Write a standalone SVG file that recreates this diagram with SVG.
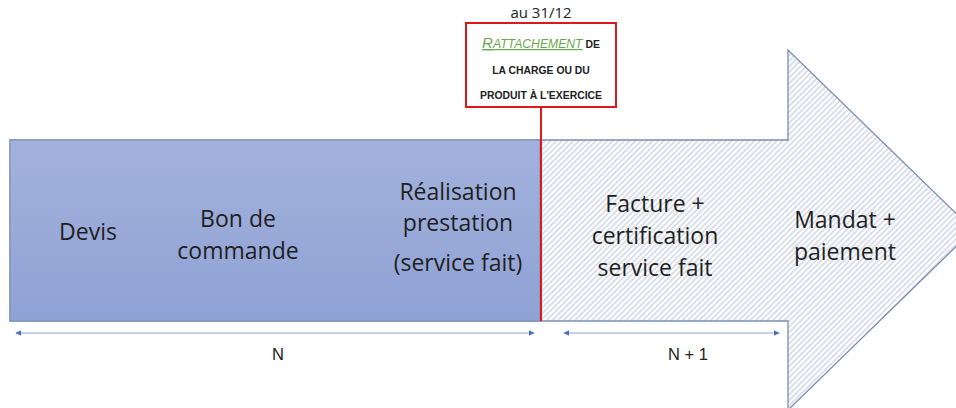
<svg xmlns="http://www.w3.org/2000/svg" width="956" height="408" viewBox="0 0 956 408">
<style>
.main{font-family:"Open Sans","Liberation Sans",sans-serif;font-size:23px;fill:#1f1f1f;text-anchor:middle}
.small{font-family:"Liberation Sans",Arial,sans-serif;font-size:10.4px;font-weight:bold;fill:#222;text-anchor:middle}
.lbl{font-family:"Liberation Sans",Arial,sans-serif;font-size:16.5px;fill:#222;text-anchor:middle}
.dim{stroke:#b4c0e0;stroke-width:1.5;fill:none}
</style>
<defs>
<pattern id="hatch" patternUnits="userSpaceOnUse" width="4" height="4" patternTransform="rotate(45)">
<rect width="4" height="4" fill="#ffffff"/>
<line x1="1" y1="0" x2="1" y2="4" stroke="#c6cedf" stroke-width="1.3"/>
</pattern>
<linearGradient id="blue" x1="0" y1="0" x2="0" y2="1">
<stop offset="0" stop-color="#a3b2dc"/>
<stop offset="1" stop-color="#8fa2d5"/>
</linearGradient>
<marker id="ah" viewBox="0 0 10 10" refX="9" refY="5" markerWidth="6" markerHeight="6" orient="auto-start-reverse" markerUnits="userSpaceOnUse">
<path d="M0,0 L10,5 L0,10 z" fill="#4472c4"/>
</marker>
</defs>
<g id="arrow">
<polygon points="10,140 788,140 788,50 973,230 788,410 788,321 10,321" fill="url(#hatch)" stroke="#7b8db2" stroke-width="1.3"/>
<rect x="10" y="140" width="530" height="181" fill="url(#blue)" stroke="#7b8db2" stroke-width="1"/>
</g>
<g id="connectors">
<line x1="541" y1="107" x2="541" y2="321" stroke="#e0161b" stroke-width="2"/>
<line class="dim" x1="16" y1="333" x2="534" y2="333" marker-start="url(#ah)" marker-end="url(#ah)"/>
<line class="dim" x1="564" y1="333" x2="779" y2="333" marker-start="url(#ah)" marker-end="url(#ah)"/>
</g>
<g id="devis"><text class="main" x="88" y="240">Devis</text></g>
<g id="bon"><text class="main" x="238" y="227">Bon de</text><text class="main" x="238" y="259">commande</text></g>
<g id="realisation"><text class="main" x="458" y="200">Réalisation</text><text class="main" x="458" y="231">prestation</text><text class="main" x="458" y="271">(service fait)</text></g>
<g id="facture"><text class="main" x="655" y="212">Facture +</text><text class="main" x="655" y="244">certification</text><text class="main" x="655" y="276">service fait</text></g>
<g id="mandat"><text class="main" x="845" y="228">Mandat +</text><text class="main" x="845" y="260">paiement</text></g>
<g id="rattachement">
<text class="lbl" x="541" y="18" style="font-family:'Open Sans','Liberation Sans',sans-serif;font-size:15px">au 31/12</text>
<rect x="466" y="23" width="150" height="84" fill="#ffffff" stroke="#e0161b" stroke-width="2"/>
<text class="small" x="541" y="48"><tspan fill="#6aa84f" font-style="italic" text-decoration="underline" font-weight="normal" font-size="15">R</tspan><tspan fill="#6aa84f" font-style="italic" text-decoration="underline" font-weight="normal" font-size="12.2">ATTACHEMENT</tspan> DE</text>
<text class="small" x="541" y="74">LA CHARGE OU DU</text>
<text class="small" x="541" y="99">PRODUIT À L'EXERCICE</text>
</g>
<g id="labels">
<text class="lbl" x="278" y="360">N</text>
<text class="lbl" x="688" y="360">N + 1</text>
</g>
</svg>
